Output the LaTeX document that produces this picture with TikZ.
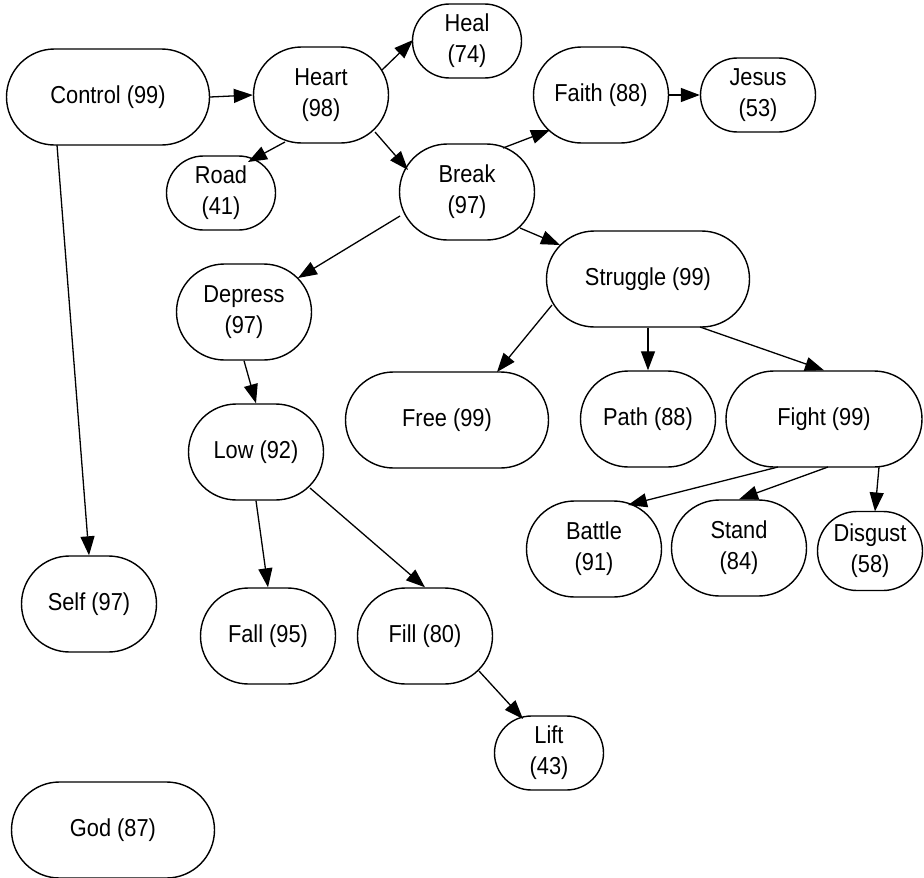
\documentclass[tikz,border=0pt]{standalone}
\usepackage{fontspec}
\setmainfont{Liberation Sans}[FakeStretch=0.89]
\usetikzlibrary{arrows.meta,calc,shapes.misc}
\begin{document}
\begin{tikzpicture}[x=1pt,y=-1pt,
  box/.style={draw, rounded rectangle, line width=1.4pt, align=center,
    inner xsep=-24pt, inner ysep=0pt,
    font=\fontsize{24.5}{31}\selectfont},
  big/.style={box, minimum width=155pt, minimum height=96pt},
  med/.style={box, minimum width=87pt, minimum height=96pt},
  sml/.style={box, minimum width=61pt, minimum height=74pt},
  link/.style={line width=1.3pt, -{Triangle[length=19pt,width=14pt]}}]
\useasboundingbox (0,0) rectangle (924,878);

\node[big] (ctrl) at (108,97) {Control (99)};
\node[med] (heart) at (321,95) {Heart\\(98)};
\node[sml] (heal) at (467,41) {Heal\\(74)};
\node[sml] (road) at (221,193) {Road\\(41)};
\node[med] (brk) at (467,192) {Break\\(97)};
\node[med] (faith) at (601,95) {Faith (88)};
\node[sml, minimum width=67pt] (jesus) at (758,95) {Jesus\\(53)};
\node[med] (depress) at (244,312) {Depress\\(97)};
\node[med] (low) at (256,452) {Low (92)};
\node[big] (free) at (447,420) {Free (99)};
\node[big] (strug) at (648,279) {Struggle (99)};
\node[med] (path) at (648,419) {Path (88)};
\node[big, minimum width=148pt] (fight) at (824,419) {Fight (99)};
\node[med] (battle) at (594,549) {Battle\\(91)};
\node[med] (stand) at (739,548) {Stand\\(84)};
\node[sml, minimum width=57pt, minimum height=79pt] (disgust) at (870,551) {Disgust\\(58)};
\node[sml] (lift) at (549,753) {Lift\\(43)};
\node[med] (self) at (89,604) {Self (97)};
\node[med] (fall) at (268,636) {Fall (95)};
\node[med] (fill) at (425,636) {Fill (80)};
\node[big] (god) at (113,830) {God (87)};

\draw[link] (ctrl.east) -- (heart.west);
\draw[link] ($(heart)+(61,-25)$) -- ($(heal)+(-54,-1)$);
\draw[link] ($(heart)+(-36,47)$) -- ($(road)+(27,-31)$);
\draw[link] ($(heart)+(54,37)$) -- ($(brk)+(-59,-22)$);
\draw[link] ($(brk)+(36,-44)$) -- ($(faith)+(-51,35)$);
\draw[link] (faith.east) -- (jesus.west);
\draw[link] ($(brk)+(-67,24)$) -- ($(depress)+(54,-34)$);
\draw[link] ($(brk)+(53,36)$) -- ($(strug)+(-88,-34)$);
\draw[link] (depress.south) -- (low.north);
\draw[link] ($(strug)+(-96,26)$) -- ($(free)+(50,-48)$);
\draw[link] (strug.south) -- (path.north);
\draw[link] ($(strug)+(52,48)$) -- (fight.north);
\draw[link] ($(fight)+(-46,48)$) -- ($(battle)+(34,-44)$);
\draw[link] ($(fight)+(4,48)$) -- (stand.north);
\draw[link] ($(fight)+(55,48)$) -- ($(disgust)+(5,-39.5)$);
\draw[link] (low.south) -- (fall.north);
\draw[link] ($(low)+(54,36)$) -- (fill.north);
\draw[link] ($(fill)+(54,35)$) -- ($(lift)+(-26,-34)$);
\draw[link] ($(ctrl)+(-51,48)$) -- (self.north);
\end{tikzpicture}
\end{document}
